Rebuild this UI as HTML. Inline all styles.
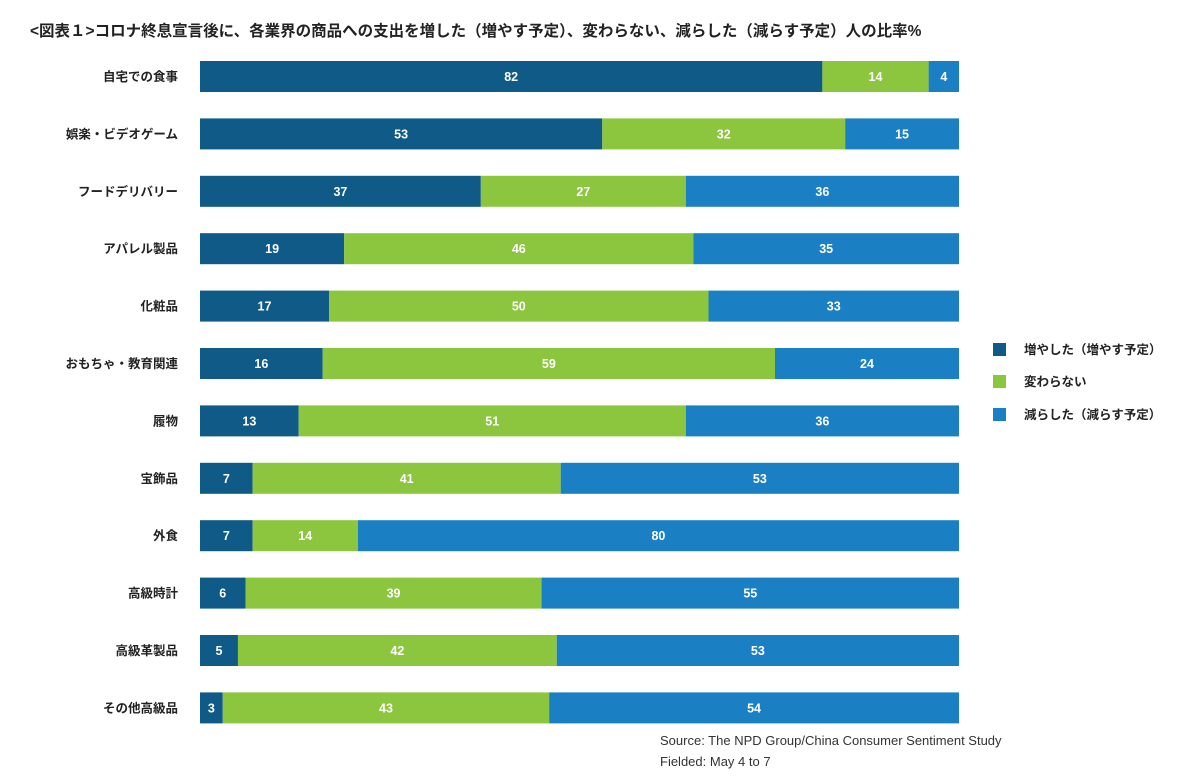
<!DOCTYPE html>
<html><head><meta charset="utf-8">
<style>
body{margin:0;background:#fff;width:1200px;height:778px;overflow:hidden;font-family:"Liberation Sans","Noto Sans CJK JP",sans-serif;}
svg text{font-family:"Liberation Sans","Noto Sans CJK JP",sans-serif;}
</style></head>
<body>
<svg id="chart" width="1200" height="778" xmlns="http://www.w3.org/2000/svg">
<text x="30" y="36" font-size="15.5" font-weight="bold" fill="#222">&lt;図表１&gt;コロナ終息宣言後に、各業界の商品への支出を増した（増やす予定）、変わらない、減らした（減らす予定）人の比率%</text>
<g id="bars"></g>
<g>
<rect x="993" y="343" width="13" height="13" fill="#0f5a86"/>
<text x="1024" y="354" font-size="12.5" font-weight="bold" fill="#222">増やした（増やす予定）</text>
<rect x="993" y="375" width="13" height="13" fill="#8cc63e"/>
<text x="1024" y="386" font-size="12.5" font-weight="bold" fill="#222">変わらない</text>
<rect x="993" y="408" width="13" height="13" fill="#1b7fc4"/>
<text x="1024" y="419" font-size="12.5" font-weight="bold" fill="#222">減らした（減らす予定）</text>
</g>
<text x="660" y="745" font-size="13" fill="#333">Source: The NPD Group/China Consumer Sentiment Study</text>
<text x="660" y="766" font-size="13" fill="#333">Fielded: May 4 to 7</text>
</svg>
<script>
const categories=["自宅での食事","娯楽・ビデオゲーム","フードデリバリー","アパレル製品","化粧品","おもちゃ・教育関連","履物","宝飾品","外食","高級時計","高級革製品","その他高級品"];
const increased=[82,53,37,19,17,16,13,7,7,6,5,3];
const unchanged=[14,32,27,46,50,59,51,41,14,39,42,43];
const decreased=[4,15,36,35,33,24,36,53,80,55,53,54];
const seriesNames=["increase","same","decrease"];
const colors=["#0f5a86","#8cc63e","#1b7fc4"];
const x0=200,x1=959,top0=61,pitch=57.4,bh=31;
const g=document.getElementById('bars');
const NS="http://www.w3.org/2000/svg";
function xScale(v,total){return (x1-x0)*v/total;}
function yPos(i){return top0+i*pitch;}
categories.forEach((c,i)=>{
  const vals=[increased[i],unchanged[i],decreased[i]];
  const total=vals.reduce((a,b)=>a+b,0);
  const y=yPos(i);
  const lab=document.createElementNS(NS,'text');
  
  
  lab.setAttribute('x',178);lab.setAttribute('y',y+bh/2+4.5);
  lab.setAttribute('text-anchor','end');lab.setAttribute('font-size','12.5');lab.setAttribute('font-weight','bold');lab.setAttribute('fill','#222');
  lab.textContent=c;g.appendChild(lab);
  let x=x0;
  vals.forEach((v,k)=>{
    const w=xScale(v,total);
    const r=document.createElementNS(NS,'rect');
    
    
    r.setAttribute('x',x);r.setAttribute('y',y);r.setAttribute('width',w);r.setAttribute('height',bh);r.setAttribute('fill',colors[k]);
    g.appendChild(r);
    const t=document.createElementNS(NS,'text');
    
    
    t.setAttribute('x',x+w/2);t.setAttribute('y',y+bh/2+4.5);t.setAttribute('text-anchor','middle');
    t.setAttribute('font-size','12.5');t.setAttribute('font-weight','bold');t.setAttribute('fill','#fff');
    t.textContent=v;g.appendChild(t);
    x+=w;
  });
});
</script>
</body></html>
